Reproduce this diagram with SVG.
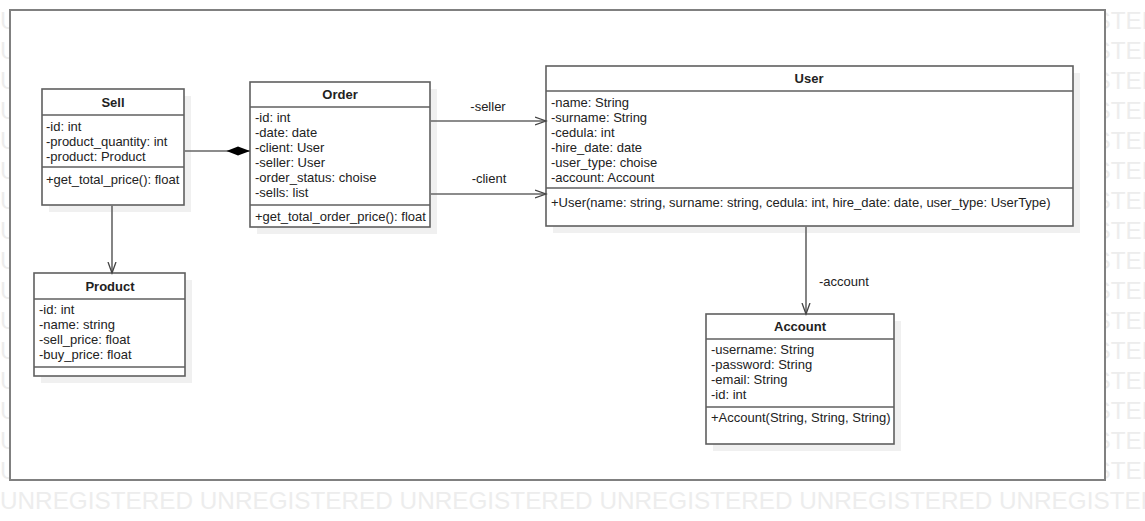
<svg xmlns="http://www.w3.org/2000/svg" width="1145" height="521" viewBox="0 0 1145 521">
<style>
.wm{font-family:"Liberation Sans",Arial,sans-serif;font-size:24.3px;fill:#ededed}
.box{fill:#fff;stroke:#5f5f5f;stroke-width:1.6}
.sh{fill:#f0f0f0}
.sep{stroke:#5f5f5f;stroke-width:1.6}
.t{font-family:"Liberation Sans",Arial,sans-serif;font-size:13px;fill:#222}
.h{font-family:"Liberation Sans",Arial,sans-serif;font-size:13px;font-weight:bold;fill:#222;text-anchor:middle}
.c{stroke:#666;stroke-width:1.6;fill:none}
</style>
<defs>
<marker id="open" markerWidth="14" markerHeight="12" refX="11" refY="5" orient="auto" markerUnits="userSpaceOnUse">
<path d="M0,1 L11,5 L0,9" fill="none" stroke="#444" stroke-width="1.3"/>
</marker>
<marker id="diamond" markerWidth="26" markerHeight="12" refX="24" refY="5" orient="auto" markerUnits="userSpaceOnUse">
<path d="M0.5,5 L12,0.5 L24,5 L12,9.5 Z" fill="#000"/>
</marker>
</defs>
<rect width="1145" height="521" fill="#fff"/>
<g id="watermark">
<text class="wm" x="0" y="29">U</text><text class="wm" x="1094.5" y="29">STERED</text>
<text class="wm" x="0" y="59">U</text><text class="wm" x="1094.5" y="59">STERED</text>
<text class="wm" x="0" y="89">U</text><text class="wm" x="1094.5" y="89">STERED</text>
<text class="wm" x="0" y="119">U</text><text class="wm" x="1094.5" y="119">STERED</text>
<text class="wm" x="0" y="149">U</text><text class="wm" x="1094.5" y="149">STERED</text>
<text class="wm" x="0" y="179">U</text><text class="wm" x="1094.5" y="179">STERED</text>
<text class="wm" x="0" y="209">U</text><text class="wm" x="1094.5" y="209">STERED</text>
<text class="wm" x="0" y="239">U</text><text class="wm" x="1094.5" y="239">STERED</text>
<text class="wm" x="0" y="269">U</text><text class="wm" x="1094.5" y="269">STERED</text>
<text class="wm" x="0" y="299">U</text><text class="wm" x="1094.5" y="299">STERED</text>
<text class="wm" x="0" y="329">U</text><text class="wm" x="1094.5" y="329">STERED</text>
<text class="wm" x="0" y="359">U</text><text class="wm" x="1094.5" y="359">STERED</text>
<text class="wm" x="0" y="389">U</text><text class="wm" x="1094.5" y="389">STERED</text>
<text class="wm" x="0" y="419">U</text><text class="wm" x="1094.5" y="419">STERED</text>
<text class="wm" x="0" y="449">U</text><text class="wm" x="1094.5" y="449">STERED</text>
<text class="wm" x="0" y="479">U</text><text class="wm" x="1094.5" y="479">STERED</text>
<text class="wm" x="0" y="509">UNREGISTERED UNREGISTERED UNREGISTERED UNREGISTERED UNREGISTERED UNREGISTERED</text>
</g>
<rect id="frame" x="10" y="10" width="1095" height="470" fill="#fff" stroke="#808080" stroke-width="2"/>

<g id="sell">
<rect class="sh" x="49" y="96" width="142" height="116"/>
<rect class="box" x="42" y="89" width="142" height="116"/>
<line class="sep" x1="42" y1="115" x2="184" y2="115"/>
<line class="sep" x1="42" y1="167" x2="184" y2="167"/>
<text class="h" x="113" y="107">Sell</text>
<text class="t" x="46" y="130.5">-id: int</text>
<text class="t" x="46" y="145.5">-product_quantity: int</text>
<text class="t" x="46" y="160.5">-product: Product</text>
<text class="t" x="46" y="183.5">+get_total_price(): float</text>
</g>

<g id="order">
<rect class="sh" x="257" y="89" width="180" height="145"/>
<rect class="box" x="250" y="82" width="180" height="145"/>
<line class="sep" x1="250" y1="107" x2="430" y2="107"/>
<line class="sep" x1="250" y1="205" x2="430" y2="205"/>
<text class="h" x="340" y="99">Order</text>
<text class="t" x="255" y="121.5">-id: int</text>
<text class="t" x="255" y="136.5">-date: date</text>
<text class="t" x="255" y="151.5">-client: User</text>
<text class="t" x="255" y="166.5">-seller: User</text>
<text class="t" x="255" y="181.5">-order_status: choise</text>
<text class="t" x="255" y="196.5">-sells: list</text>
<text class="t" x="255" y="220.5">+get_total_order_price(): float</text>
</g>

<g id="user">
<rect class="sh" x="553" y="73" width="527" height="160"/>
<rect class="box" x="546" y="66" width="527" height="160"/>
<line class="sep" x1="546" y1="91" x2="1073" y2="91"/>
<line class="sep" x1="546" y1="188" x2="1073" y2="188"/>
<text class="h" x="809" y="83">User</text>
<text class="t" x="551" y="106.5">-name: String</text>
<text class="t" x="551" y="121.5">-surname: String</text>
<text class="t" x="551" y="136.5">-cedula: int</text>
<text class="t" x="551" y="151.5">-hire_date: date</text>
<text class="t" x="551" y="166.5">-user_type: choise</text>
<text class="t" x="551" y="181.5">-account: Account</text>
<text class="t" x="551" y="206.5">+User(name: string, surname: string, cedula: int, hire_date: date, user_type: UserType)</text>
</g>

<g id="product">
<rect class="sh" x="41" y="280" width="151" height="103"/>
<rect class="box" x="34" y="273" width="151" height="103"/>
<line class="sep" x1="34" y1="299" x2="185" y2="299"/>
<line class="sep" x1="34" y1="367" x2="185" y2="367"/>
<text class="h" x="110" y="291">Product</text>
<text class="t" x="39" y="313.5">-id: int</text>
<text class="t" x="39" y="328.5">-name: string</text>
<text class="t" x="39" y="343.5">-sell_price: float</text>
<text class="t" x="39" y="358.5">-buy_price: float</text>
</g>

<g id="account">
<rect class="sh" x="713" y="321" width="188" height="130"/>
<rect class="box" x="706" y="314" width="188" height="130"/>
<line class="sep" x1="706" y1="339" x2="894" y2="339"/>
<line class="sep" x1="706" y1="407" x2="894" y2="407"/>
<text class="h" x="800" y="331">Account</text>
<text class="t" x="711" y="353.5">-username: String</text>
<text class="t" x="711" y="368.5">-password: String</text>
<text class="t" x="711" y="383.5">-email: String</text>
<text class="t" x="711" y="398.5">-id: int</text>
<text class="t" x="711" y="421.5">+Account(String, String, String)</text>
</g>

<g id="connectors">
<line class="c" x1="184.8" y1="151" x2="250" y2="151" marker-end="url(#diamond)"/>
<line class="c" x1="112" y1="205.8" x2="112" y2="273" marker-end="url(#open)"/>
<line class="c" x1="430.8" y1="121" x2="546" y2="121" marker-end="url(#open)"/>
<line class="c" x1="430.8" y1="194" x2="546" y2="194" marker-end="url(#open)"/>
<line class="c" x1="806" y1="226.8" x2="806" y2="314" marker-end="url(#open)"/>
<text class="t" x="488" y="111" text-anchor="middle">-seller</text>
<text class="t" x="489" y="182.5" text-anchor="middle">-client</text>
<text class="t" x="819" y="286">-account</text>
</g>
</svg>
